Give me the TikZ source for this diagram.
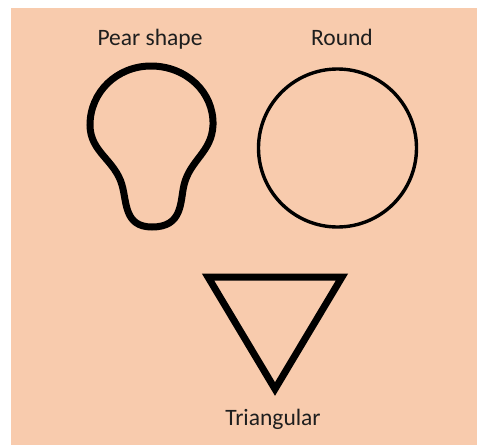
\documentclass[tikz,border=0pt]{standalone}
\usepackage{fontspec}
\setmainfont{Carlito}
\usepackage{tikz}
\definecolor{peach}{RGB}{248,203,173}
\definecolor{labeltext}{RGB}{30,30,30}
\tikzset{
  shapename/.style={anchor=base, inner sep=0pt, font=\fontsize{23.5}{28}\selectfont, text=labeltext},
  thickline/.style={draw=black, line width=7pt},
  thinline/.style={draw=black, line width=3.4pt},
}

\begin{document}
\begin{tikzpicture}[x=1pt, y=-1pt]
\useasboundingbox (0,0) rectangle (477,445);
\fill[peach] (11,8) rectangle (477,445);
% labels
\node[shapename] (pearlabel) at (150,45) {Pear shape};
\node[shapename] (roundlabel) at (342,45) {Round};
\node[shapename] (trilabel) at (273,425) {Triangular};
% pear
\draw[thickline] (151,66) .. controls (186,66) and (214,92) .. (213,125)
  .. controls (212,152) and (190,160) .. (184,185)
  .. controls (180,202) and (183,227) .. (152,227)
  .. controls (124,227) and (127,202) .. (122,185)
  .. controls (115,160) and (90,152) .. (90,125)
  .. controls (90,92) and (117,66) .. cycle;
% round
\draw[thinline] (337.5,148) circle[radius=79];
% triangular
\draw[thickline, line join=miter] (208,277) -- (342,277) -- (275,389) -- cycle;
\end{tikzpicture}
\end{document}
